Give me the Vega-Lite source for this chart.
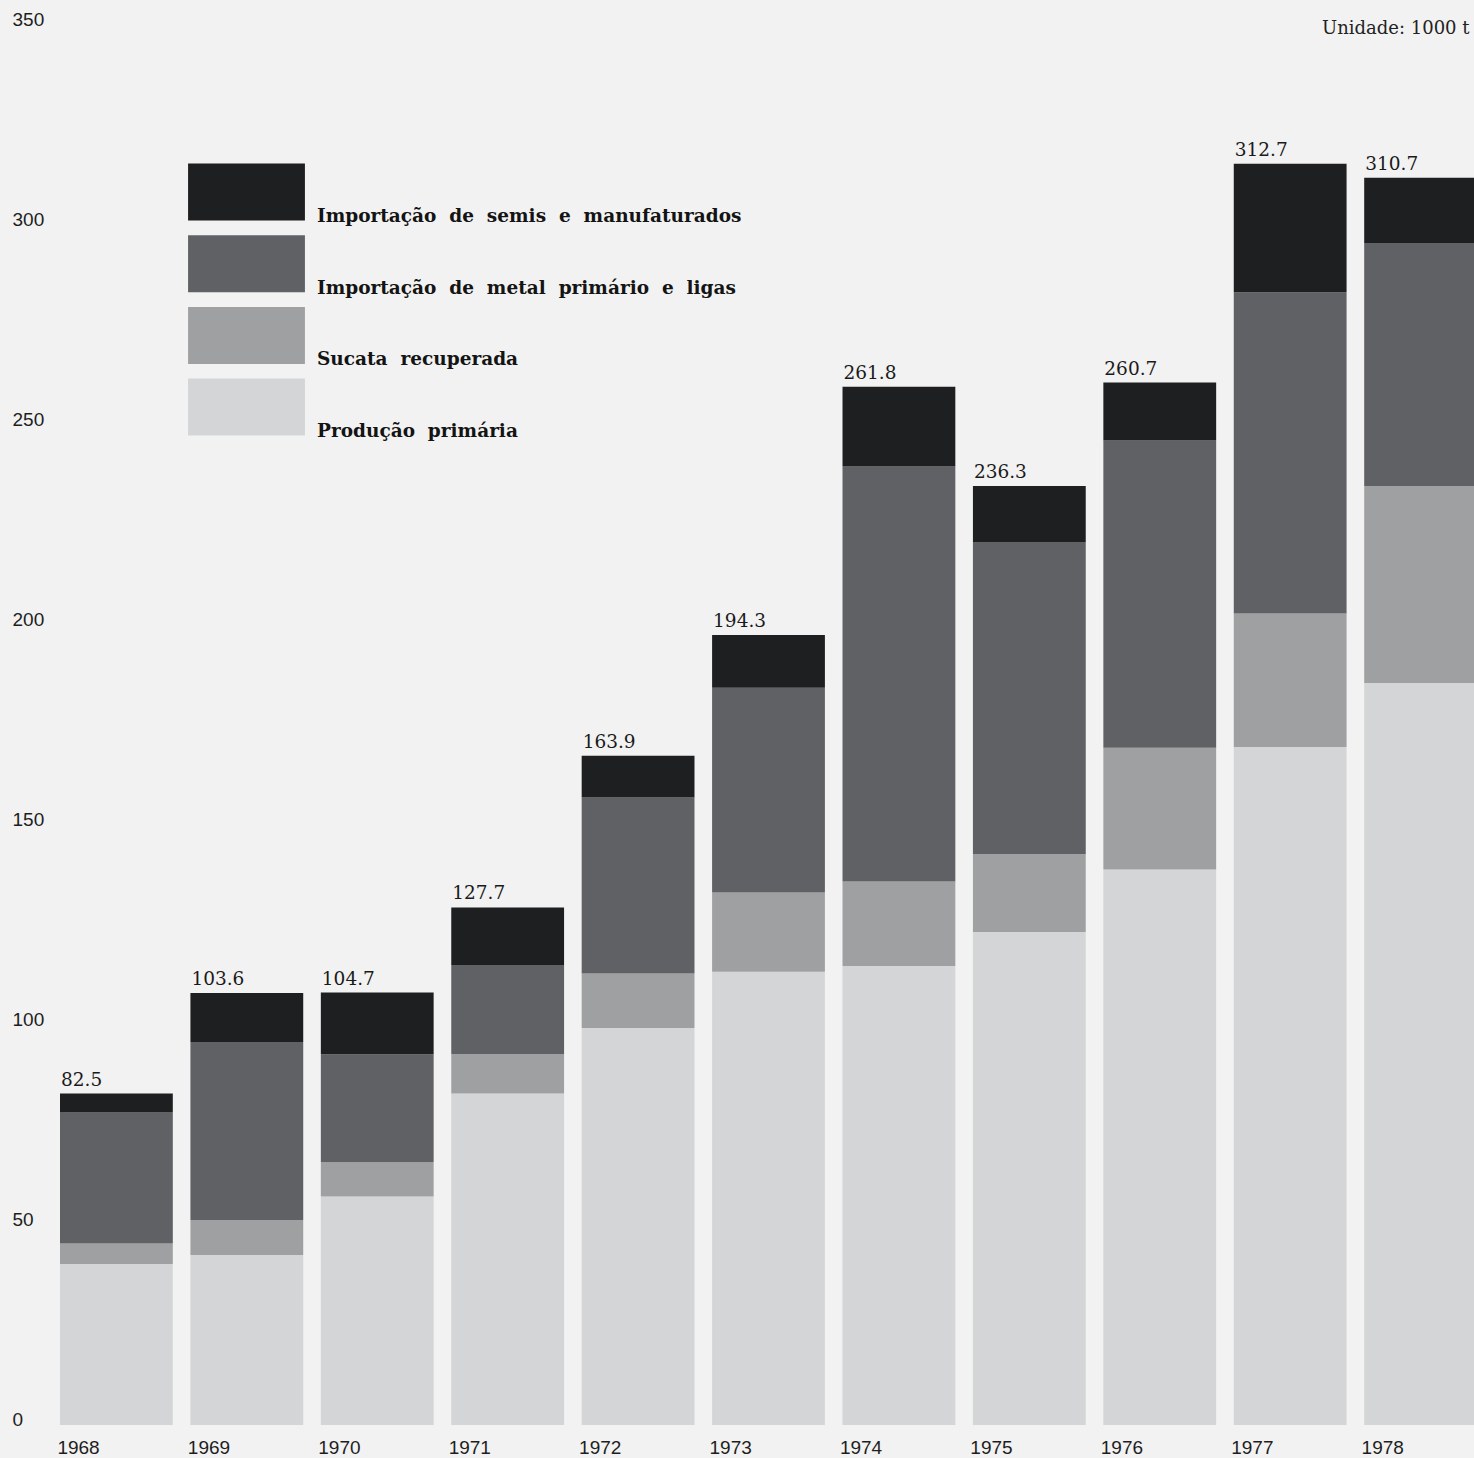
{
  "$schema": "https://vega.github.io/schema/vega-lite/v6.json",
  "width": 1422,
  "height": 1400,
  "autosize": {"type": "none"},
  "padding": {"left": 52, "top": 25, "right": 0, "bottom": 33},
  "background": "#f2f2f2",
  "config": {"view": {"stroke": null}},
  "title": {"text": "Unidade: 1000 t", "anchor": "start", "dx": 1310, "dy": 42, "offset": 0, "font": "DejaVu Serif", "fontSize": 18, "fontWeight": "normal", "color": "#222222", "baseline": "alphabetic"},
  "datasets": {
    "totals": [
      {"year": "1968", "total": "82.5"},
      {"year": "1969", "total": "103.6"},
      {"year": "1970", "total": "104.7"},
      {"year": "1971", "total": "127.7"},
      {"year": "1972", "total": "163.9"},
      {"year": "1973", "total": "194.3"},
      {"year": "1974", "total": "261.8"},
      {"year": "1975", "total": "236.3"},
      {"year": "1976", "total": "260.7"},
      {"year": "1977", "total": "312.7"},
      {"year": "1978", "total": "310.7"}
    ]
  },
  "data": {
    "values": [
      {"year": "1968", "cat": "Produção primária", "ord": 1, "value": 40.25},
      {"year": "1968", "cat": "Sucata recuperada", "ord": 2, "value": 5.1},
      {"year": "1968", "cat": "Importação de metal primário e ligas", "ord": 3, "value": 32.8},
      {"year": "1968", "cat": "Importação de semis e manufaturados", "ord": 4, "value": 4.7},
      {"year": "1969", "cat": "Produção primária", "ord": 1, "value": 42.5},
      {"year": "1969", "cat": "Sucata recuperada", "ord": 2, "value": 8.75},
      {"year": "1969", "cat": "Importação de metal primário e ligas", "ord": 3, "value": 44.5},
      {"year": "1969", "cat": "Importação de semis e manufaturados", "ord": 4, "value": 12.25},
      {"year": "1970", "cat": "Produção primária", "ord": 1, "value": 57.1},
      {"year": "1970", "cat": "Sucata recuperada", "ord": 2, "value": 8.6},
      {"year": "1970", "cat": "Importação de metal primário e ligas", "ord": 3, "value": 27.0},
      {"year": "1970", "cat": "Importação de semis e manufaturados", "ord": 4, "value": 15.4},
      {"year": "1971", "cat": "Produção primária", "ord": 1, "value": 82.9},
      {"year": "1971", "cat": "Sucata recuperada", "ord": 2, "value": 9.85},
      {"year": "1971", "cat": "Importação de metal primário e ligas", "ord": 3, "value": 22.25},
      {"year": "1971", "cat": "Importação de semis e manufaturados", "ord": 4, "value": 14.4},
      {"year": "1972", "cat": "Produção primária", "ord": 1, "value": 99.25},
      {"year": "1972", "cat": "Sucata recuperada", "ord": 2, "value": 13.65},
      {"year": "1972", "cat": "Importação de metal primário e ligas", "ord": 3, "value": 44.0},
      {"year": "1972", "cat": "Importação de semis e manufaturados", "ord": 4, "value": 10.4},
      {"year": "1973", "cat": "Produção primária", "ord": 1, "value": 113.3},
      {"year": "1973", "cat": "Sucata recuperada", "ord": 2, "value": 19.8},
      {"year": "1973", "cat": "Importação de metal primário e ligas", "ord": 3, "value": 51.2},
      {"year": "1973", "cat": "Importação de semis e manufaturados", "ord": 4, "value": 13.2},
      {"year": "1974", "cat": "Produção primária", "ord": 1, "value": 114.75},
      {"year": "1974", "cat": "Sucata recuperada", "ord": 2, "value": 21.15},
      {"year": "1974", "cat": "Importação de metal primário e ligas", "ord": 3, "value": 103.75},
      {"year": "1974", "cat": "Importação de semis e manufaturados", "ord": 4, "value": 19.9},
      {"year": "1975", "cat": "Produção primária", "ord": 1, "value": 123.25},
      {"year": "1975", "cat": "Sucata recuperada", "ord": 2, "value": 19.5},
      {"year": "1975", "cat": "Importação de metal primário e ligas", "ord": 3, "value": 77.85},
      {"year": "1975", "cat": "Importação de semis e manufaturados", "ord": 4, "value": 14.15},
      {"year": "1976", "cat": "Produção primária", "ord": 1, "value": 138.9},
      {"year": "1976", "cat": "Sucata recuperada", "ord": 2, "value": 30.4},
      {"year": "1976", "cat": "Importação de metal primário e ligas", "ord": 3, "value": 76.8},
      {"year": "1976", "cat": "Importação de semis e manufaturados", "ord": 4, "value": 14.5},
      {"year": "1977", "cat": "Produção primária", "ord": 1, "value": 169.5},
      {"year": "1977", "cat": "Sucata recuperada", "ord": 2, "value": 33.4},
      {"year": "1977", "cat": "Importação de metal primário e ligas", "ord": 3, "value": 80.3},
      {"year": "1977", "cat": "Importação de semis e manufaturados", "ord": 4, "value": 32.1},
      {"year": "1978", "cat": "Produção primária", "ord": 1, "value": 185.5},
      {"year": "1978", "cat": "Sucata recuperada", "ord": 2, "value": 49.25},
      {"year": "1978", "cat": "Importação de metal primário e ligas", "ord": 3, "value": 60.75},
      {"year": "1978", "cat": "Importação de semis e manufaturados", "ord": 4, "value": 16.3}
    ]
  },
  "layer": [
    {
      "mark": {"type": "bar", "clip": true},
      "encoding": {
        "x": {
          "field": "year", "type": "ordinal",
          "scale": {"range": [8, 1425], "paddingInner": 0.135, "paddingOuter": 0},
          "axis": {"title": null, "domain": false, "ticks": false, "tickSize": 0, "labelAlign": "left", "labelBaseline": "alphabetic", "labelPadding": 28, "labelOffset": -59, "labelAngle": 0, "labelFont": "Liberation Sans", "labelFontSize": 19, "labelColor": "#1e1e1e"}
        },
        "y": {
          "field": "value", "type": "quantitative", "stack": "zero",
          "scale": {"domain": [0, 350], "nice": false},
          "axis": {"title": null, "values": [0, 50, 100, 150, 200, 250, 300, 350], "domain": false, "ticks": false, "tickSize": 0, "grid": false, "labelAlign": "left", "labelBaseline": "alphabetic", "labelPadding": 40, "labelFont": "Liberation Sans", "labelFontSize": 19, "labelColor": "#1e1e1e", "labelFlush": false}
        },
        "color": {
          "field": "cat", "type": "nominal",
          "scale": {
            "domain": ["Importação de semis e manufaturados", "Importação de metal primário e ligas", "Sucata recuperada", "Produção primária"],
            "range": ["#1e1f21", "#606164", "#9fa0a2", "#d4d5d6"]
          },
          "legend": {
            "orient": "none", "legendX": 166, "legendY": 138.5,
            "title": null, "padding": 0,
            "symbolType": "M-2.05,-1H2.05V1H-2.05Z",
            "symbolSize": 3249, "symbolStrokeWidth": 0, "symbolOpacity": 1,
            "labelFont": "DejaVu Serif", "labelFontWeight": "bold", "labelFontSize": 18.5, "labelColor": "#141414",
            "labelOffset": 42, "rowPadding": 9.7, "labelBaseline": "alphabetic", "labelLimit": 800,
            "labelExpr": "join(split(datum.label, ' '), '\u00a0\u00a0')",
            "encode": {"labels": {"update": {"dy": {"value": 30}}}}
          }
        },
        "order": {"field": "ord", "type": "quantitative", "sort": "ascending"}
      }
    },
    {
      "transform": [
        {"aggregate": [{"op": "sum", "field": "value", "as": "top"}], "groupby": ["year"]},
        {"lookup": "year", "from": {"data": {"name": "totals"}, "key": "year", "fields": ["total"]}}
      ],
      "mark": {"type": "text", "align": "left", "baseline": "alphabetic", "dx": 1, "dy": -8, "font": "DejaVu Serif", "fontSize": 18.5, "color": "#1a1a1a"},
      "encoding": {
        "x": {"field": "year", "type": "ordinal", "bandPosition": 0},
        "y": {"field": "top", "type": "quantitative"},
        "text": {"field": "total", "type": "nominal"}
      }
    }
  ]
}
